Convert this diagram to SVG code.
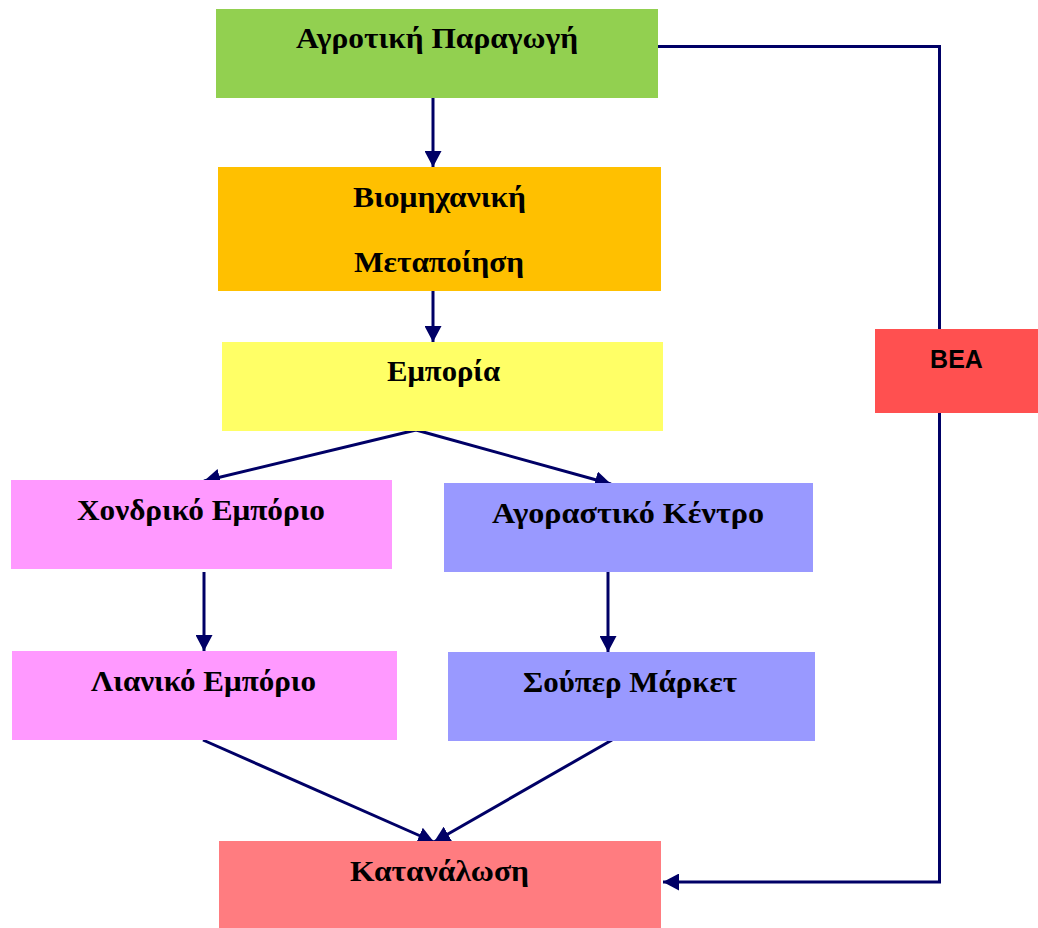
<svg xmlns="http://www.w3.org/2000/svg" width="1038" height="928" viewBox="0 0 1038 928">
  <defs>
    <marker id="arrow" viewBox="0 0 10 10" refX="10" refY="5" markerWidth="16" markerHeight="17" markerUnits="userSpaceOnUse" orient="auto" preserveAspectRatio="none">
      <path d="M0,0 L10,5 L0,10 z" fill="#000066"/>
    </marker>
    <style>
      .lbl { font-family: "Liberation Serif", "DejaVu Serif", serif; font-weight: bold; font-size: 30px; fill: #000; text-anchor: middle; }
      .sans { font-family: "Liberation Sans", Arial, sans-serif; font-weight: bold; font-size: 25px; fill: #000; text-anchor: middle; }
      .conn { fill: none; stroke: #000066; stroke-width: 3; }
      .conn .arr { marker-end: url(#arrow); }
    </style>
  </defs>

  <rect width="1038" height="928" fill="#ffffff"/>

  <!-- connectors -->
  <g id="connectors" class="conn">
    <line class="arr" x1="433" y1="98" x2="433" y2="167"/>
    <line class="arr" x1="433" y1="291" x2="433" y2="342"/>
    <polyline class="arr" points="416,430 204,481"/>
    <polyline class="arr" points="416,430 611,484"/>
    <line class="arr" x1="204" y1="572" x2="204" y2="651"/>
    <line class="arr" x1="608" y1="572" x2="608" y2="652"/>
    <line class="arr" x1="203" y1="740" x2="434" y2="842"/>
    <line class="arr" x1="612" y1="740" x2="434" y2="842"/>
    <polyline points="658,46.5 939.5,46.5 939.5,329"/>
    <polyline class="arr" points="939.5,413 939.5,882 663,882"/>
  </g>

  <!-- nodes -->
  <g id="agrotiki">
    <rect x="216" y="9" width="442" height="89" fill="#92D050"/>
    <text class="lbl" x="437" y="48" textLength="282" lengthAdjust="spacingAndGlyphs">Αγροτική Παραγωγή</text>
  </g>
  <g id="viomichaniki">
    <rect x="218" y="167" width="443" height="124" fill="#FFC000"/>
    <text class="lbl" x="439.5" y="207" textLength="173" lengthAdjust="spacingAndGlyphs">Βιομηχανική</text>
    <text class="lbl" x="439" y="272" textLength="170" lengthAdjust="spacingAndGlyphs">Μεταποίηση</text>
  </g>
  <g id="emporia">
    <rect x="222" y="342" width="441" height="89" fill="#FFFF66"/>
    <text class="lbl" x="443.5" y="381" textLength="113" lengthAdjust="spacingAndGlyphs">Εμπορία</text>
  </g>
  <g id="chondriko">
    <rect x="11" y="480" width="381" height="89" fill="#FF99FF"/>
    <text class="lbl" x="201" y="520" textLength="248" lengthAdjust="spacingAndGlyphs">Χονδρικό Εμπόριο</text>
  </g>
  <g id="agorastiko">
    <rect x="444" y="483" width="369" height="89" fill="#9999FF"/>
    <text class="lbl" x="628" y="523" textLength="272" lengthAdjust="spacingAndGlyphs">Αγοραστικό Κέντρο</text>
  </g>
  <g id="lianiko">
    <rect x="12" y="651" width="385" height="89" fill="#FF99FF"/>
    <text class="lbl" x="203.5" y="691" textLength="225" lengthAdjust="spacingAndGlyphs">Λιανικό Εμπόριο</text>
  </g>
  <g id="souper">
    <rect x="448" y="652" width="367" height="89" fill="#9999FF"/>
    <text class="lbl" x="630" y="692" textLength="214" lengthAdjust="spacingAndGlyphs">Σούπερ Μάρκετ</text>
  </g>
  <g id="katanalosi">
    <rect x="219" y="841" width="442" height="87" fill="#FF7C80"/>
    <text class="lbl" x="439.5" y="881" textLength="179" lengthAdjust="spacingAndGlyphs">Κατανάλωση</text>
  </g>
  <g id="bea">
    <rect x="875" y="329" width="163" height="84" fill="#FF5050"/>
    <text class="sans" x="956.5" y="368">BEA</text>
  </g>
</svg>
